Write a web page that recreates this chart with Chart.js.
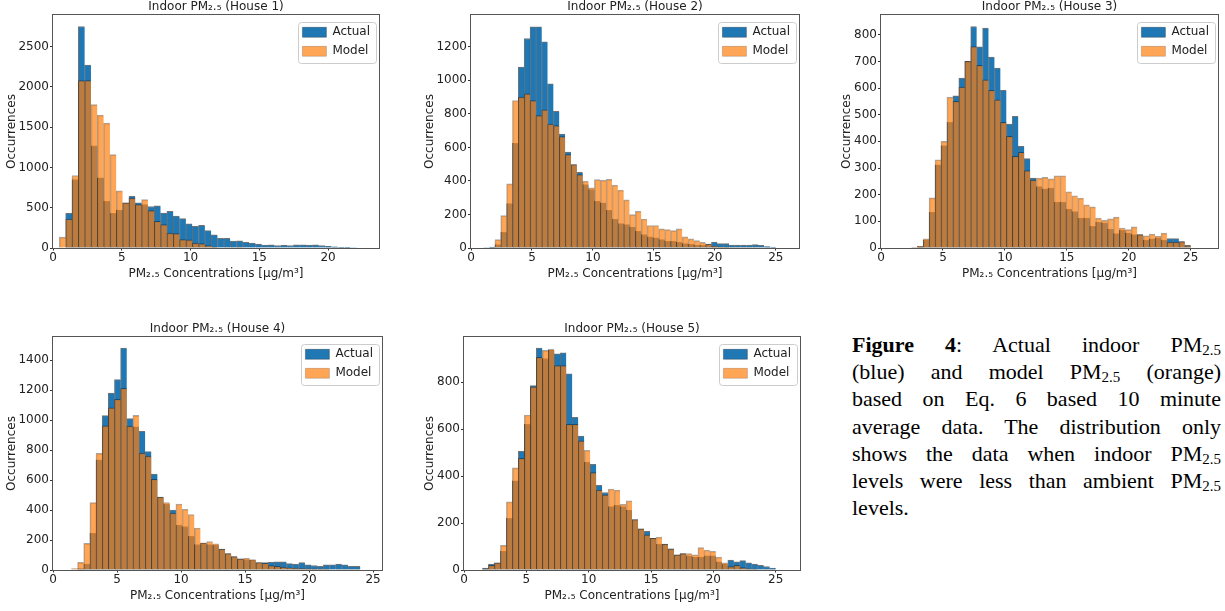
<!DOCTYPE html>
<html><head><meta charset="utf-8">
<script src="https://cdn.jsdelivr.net/npm/chart.js@4"></script>
<style>
html,body{margin:0;padding:0;background:#fff;}
body{width:1225px;height:611px;position:relative;overflow:hidden;}
#caption{position:absolute;left:852px;top:331px;width:369px;font-family:'Liberation Serif','Times New Roman',serif;font-size:22px;color:#000;}
#caption .ln{height:27.2px;line-height:27.2px;text-align:justify;text-align-last:justify;}
#caption .ln.last{text-align:left;text-align-last:left;}
#caption sub{font-size:0.68em;vertical-align:-0.22em;line-height:0;}
</style>
</head><body>
<div id="caption">
<div class="ln"><b>Figure 4</b>: Actual indoor PM<sub>2.5</sub></div>
<div class="ln">(blue) and model PM<sub>2.5</sub> (orange)</div>
<div class="ln">based on Eq. 6 based 10 minute</div>
<div class="ln">average data. The distribution only</div>
<div class="ln">shows the data when indoor PM<sub>2.5</sub></div>
<div class="ln">levels were less than ambient PM<sub>2.5</sub></div>
<div class="ln last">levels.</div>
</div>
<script>
// ---------- data ----------
const houses = ['House 1', 'House 2', 'House 3', 'House 4', 'House 5'];
const seriesLabels = ['Actual', 'Model'];
const binStart = [0, 1.0, 1.0, 0, 1.0];
const binWidth = [0.46, 0.48, 0.48, 0.48, 0.48];

const actual1 = [0, 0, 430, 850, 2750, 2270, 1270, 870, 580, 430, 470, 560, 640, 560, 540, 515, 525, 435, 455, 395, 365, 300, 270, 280, 215, 165, 120, 120, 85, 90, 70, 60, 50, 35, 40, 30, 35, 30, 40, 40, 35, 40, 30, 20, 15, 8, 8, 4, 0, 0];
const model1 = [0, 136, 360, 900, 2080, 2080, 1780, 1650, 1550, 1160, 710, 560, 620, 540, 600, 465, 330, 290, 185, 180, 105, 100, 60, 55, 30, 10, 5, 3, 2, 1, 0, 0, 0, 0, 0, 0, 0, 0, 0, 0, 0, 0, 0, 0, 0, 0, 0, 0, 0, 0];

const actual2 = [2, 5, 20, 94, 265, 624, 1080, 1250, 1320, 1320, 1230, 980, 815, 680, 572, 498, 452, 379, 349, 279, 269, 225, 172, 145, 140, 125, 100, 80, 66, 60, 50, 40, 40, 34, 26, 22, 18, 16, 24, 36, 26, 26, 18, 18, 18, 18, 20, 16, 8, 6];
const model2 = [0, 3, 50, 193, 383, 880, 900, 920, 880, 790, 825, 740, 730, 665, 558, 498, 438, 398, 359, 408, 404, 409, 375, 345, 287, 199, 219, 173, 134, 134, 114, 110, 104, 114, 66, 54, 44, 34, 24, 10, 6, 4, 3, 2, 2, 1, 1, 0, 0, 0];

const actual3 = [0, 0, 0, 2, 5, 30, 134, 312, 384, 471, 571, 637, 700, 831, 755, 825, 716, 675, 591, 465, 494, 381, 335, 262, 230, 222, 225, 172, 172, 146, 137, 112, 112, 81, 97, 94, 71, 54, 66, 56, 50, 50, 30, 34, 38, 30, 35, 35, 24, 10];
const model3 = [0, 0, 0, 1, 6, 34, 188, 331, 400, 566, 550, 604, 700, 756, 685, 631, 591, 556, 471, 419, 344, 359, 290, 255, 262, 265, 259, 271, 271, 211, 196, 187, 162, 154, 112, 104, 109, 116, 75, 69, 79, 50, 46, 52, 45, 56, 22, 22, 24, 8];

const actual4 = [0, 0, 0, 0, 10, 40, 245, 735, 1030, 1180, 1270, 1480, 1010, 955, 925, 790, 640, 487, 440, 400, 300, 290, 225, 170, 178, 170, 165, 140, 110, 90, 75, 70, 65, 50, 50, 52, 55, 55, 42, 40, 49, 35, 30, 25, 34, 35, 40, 35, 25, 25];
const model4 = [0, 0, 0, 10, 51, 178, 449, 778, 962, 1082, 1138, 1211, 960, 1031, 780, 760, 605, 487, 450, 380, 440, 405, 370, 280, 182, 190, 175, 140, 110, 90, 75, 80, 70, 50, 45, 30, 25, 20, 15, 12, 10, 8, 6, 5, 4, 3, 2, 2, 1, 1];

const actual5 = [0, 8, 25, 30, 80, 220, 380, 505, 620, 785, 945, 900, 935, 920, 925, 835, 650, 570, 460, 450, 360, 330, 270, 275, 270, 255, 215, 175, 165, 135, 110, 110, 90, 65, 70, 60, 55, 55, 60, 60, 35, 25, 42, 35, 40, 30, 25, 20, 15, 8];
const model5 = [0, 5, 20, 30, 105, 290, 435, 475, 660, 780, 905, 935, 940, 870, 870, 620, 620, 550, 510, 415, 340, 320, 345, 340, 280, 295, 215, 175, 150, 135, 140, 110, 90, 65, 70, 70, 65, 95, 85, 80, 55, 30, 15, 20, 10, 5, 3, 2, 1, 0];

const actualSeries = [actual1, actual2, actual3, actual4, actual5];
const modelSeries = [model1, model2, model3, model4, model5];

// axis limits and tick steps
const xMax = [23.7, 26.9, 27.2, 25.7, 26.95];
const yMax = [2893, 1390, 874, 1554, 992];
const yStep = [500, 200, 100, 200, 200];
const xStep = 5;
const yTitle = 'Occurrences';
const xTitle = 'PM\u2082.\u2085 Concentrations [\u03bcg/m\u00b3]';
const titleFor = h => 'Indoor PM\u2082.\u2085 (' + h + ')';

// ---------- layout (page pixels of each plot area) ----------
const areas = [
  {L: 53,  T: 15,  R: 379,  B: 248, yPad: 4.8},
  {L: 471, T: 15,  R: 799,  B: 248, yPad: 4.8},
  {L: 881, T: 15,  R: 1218, B: 248, yPad: 11.3},
  {L: 53,  T: 337, R: 382,  B: 570, yPad: 4.8},
  {L: 464, T: 337, R: 800,  B: 570, yPad: 11.3}
];
const YAXIS_W = 53, TITLE_H = 15, XAXIS_H = 36, PAD_R = 6;
const FONT = '"DejaVu Sans", sans-serif';
const TEXT = '#222';
const TICKC = '#333';

Chart.defaults.font.family = FONT;
Chart.defaults.font.size = 12;
Chart.defaults.color = TEXT;

const mplPlugin = {
  id: 'mplLook',
  afterLayout(chart) {
    const lg = chart.legend, ca = chart.chartArea, ctx = chart.ctx;
    if (!lg) return;
    ctx.save();
    ctx.font = '12px ' + FONT;
    const tw = Math.max(...seriesLabels.map(s => ctx.measureText(s).width));
    ctx.restore();
    const fr = ca.right - 3, ft = ca.top + 6.7;
    const fl = fr - 6 - tw - 30 - 4.5;
    chart.$lgFrame = {x: fl, y: ft, w: fr - fl, h: 41};
    lg.left = fl + 4.5 - 7;
    lg.top = ft - 2.4;
    lg.right = ca.right;
    lg.bottom = ca.bottom;
    lg.width = lg.right - lg.left;
    lg.height = lg.bottom - lg.top;
  },
  beforeDraw(chart) {
    const f = chart.$lgFrame; if (!f) return;
    const ctx = chart.ctx;
    ctx.save();
    ctx.beginPath();
    const r = 3, x = Math.round(f.x) + 0.5, y = Math.round(f.y) + 0.5, w = Math.round(f.w), h = Math.round(f.h);
    ctx.moveTo(x + r, y);
    ctx.arcTo(x + w, y, x + w, y + h, r);
    ctx.arcTo(x + w, y + h, x, y + h, r);
    ctx.arcTo(x, y + h, x, y, r);
    ctx.arcTo(x, y, x + w, y, r);
    ctx.closePath();
    ctx.fillStyle = 'rgba(255,255,255,0.8)';
    ctx.fill();
    ctx.strokeStyle = '#cccccc';
    ctx.lineWidth = 1;
    ctx.stroke();
    ctx.restore();
  },
  afterDatasetsDraw(chart) {
    const {left, top, right, bottom} = chart.chartArea;
    const ctx = chart.ctx;
    ctx.save();
    ctx.strokeStyle = '#555';
    ctx.lineWidth = 1;
    ctx.strokeRect(Math.round(left) - 0.5, Math.round(top) - 0.5, Math.round(right - left) + 1, Math.round(bottom - top) + 1);
    ctx.restore();
  }
};

const keepSteps = (step, max) => s => {
  s.ticks = s.ticks.filter(t => t.value >= 0 && t.value <= max + 1e-9 &&
    Math.abs(t.value / step - Math.round(t.value / step)) < 1e-9);
};

function makeChart(i) {
  const a = areas[i];
  const W = a.R - a.L + YAXIS_W + PAD_R;
  const H = a.B - a.T + TITLE_H + XAXIS_H;
  const canvas = document.createElement('canvas');
  canvas.width = W; canvas.height = H;
  canvas.style.cssText = 'position:absolute;left:' + (a.L - YAXIS_W) + 'px;top:' + (a.T - TITLE_H) + 'px;width:' + W + 'px;height:' + H + 'px;';
  document.body.appendChild(canvas);

  const centers = actualSeries[i].map((_, k) => binStart[i] + binWidth[i] * (k + 0.5));
  const toPts = arr => arr.map((v, k) => ({x: centers[k], y: v}));
  const barCommon = {barPercentage: 1, categoryPercentage: 1, grouped: false, borderSkipped: 'start'};

  new Chart(canvas, {
    type: 'bar',
    data: {
      datasets: [
        Object.assign({
          label: seriesLabels[0], data: toPts(actualSeries[i]),
          backgroundColor: '#1f77b4', borderColor: 'rgba(0,0,0,0.55)',
          borderWidth: {top: 1, left: 1, right: 0, bottom: 0}, order: 2
        }, barCommon),
        Object.assign({
          label: seriesLabels[1], data: toPts(modelSeries[i]),
          backgroundColor: 'rgba(255,127,14,0.7)', borderColor: 'rgba(0,0,0,0.35)',
          borderWidth: {top: 1, left: 1, right: 0, bottom: 0}, order: 1
        }, barCommon)
      ]
    },
    options: {
      responsive: false, maintainAspectRatio: false, animation: false, devicePixelRatio: 1,
      layout: {padding: {left: 0, right: PAD_R, top: 0, bottom: 0}},
      plugins: {
        tooltip: {enabled: false},
        title: {display: true, text: titleFor(houses[i]), fullSize: false, color: TEXT,
                font: {size: 12, weight: 'normal'}, padding: {top: 0, bottom: 0.6}},
        legend: {display: true, position: 'chartArea', align: 'start',
                 labels: {boxWidth: 24, boxHeight: 10, padding: 7, color: TEXT, font: {size: 12},
                          sort: (p, q) => p.datasetIndex - q.datasetIndex}}
      },
      scales: {
        x: {
          type: 'linear', position: 'bottom', bounds: 'data', offset: false,
          afterDataLimits: s => { s.min = 0; s.max = xMax[i]; },
          ticks: {stepSize: xStep, padding: 0, maxRotation: 0, autoSkip: false, color: TEXT, font: {size: 12},
                  callback: v => String(v)},
          afterBuildTicks: keepSteps(xStep, xMax[i]),
          grid: {display: true, offset: false, drawOnChartArea: false, drawTicks: true, tickLength: 2.5, color: TICKC},
          border: {display: false},
          title: {display: true, text: xTitle, color: TEXT, font: {size: 12}, padding: {top: 0, bottom: 2.6}},
          afterFit: s => { s.height = XAXIS_H; }
        },
        y: {
          type: 'linear', position: 'left', bounds: 'data',
          afterDataLimits: s => { s.min = 0; s.max = yMax[i]; },
          ticks: {stepSize: yStep[i], padding: 1, color: TEXT, font: {size: 12}, callback: v => String(v)},
          afterBuildTicks: keepSteps(yStep[i], yMax[i]),
          grid: {display: true, drawOnChartArea: false, drawTicks: true, tickLength: 3, color: TICKC},
          border: {display: false},
          title: {display: true, text: yTitle, color: TEXT, font: {size: 12}, padding: {top: a.yPad, bottom: 0}},
          afterFit: s => { s.width = YAXIS_W; }
        }
      }
    },
    plugins: [mplPlugin]
  });
}

for (let i = 0; i < houses.length; i++) makeChart(i);
</script>
</body></html>
